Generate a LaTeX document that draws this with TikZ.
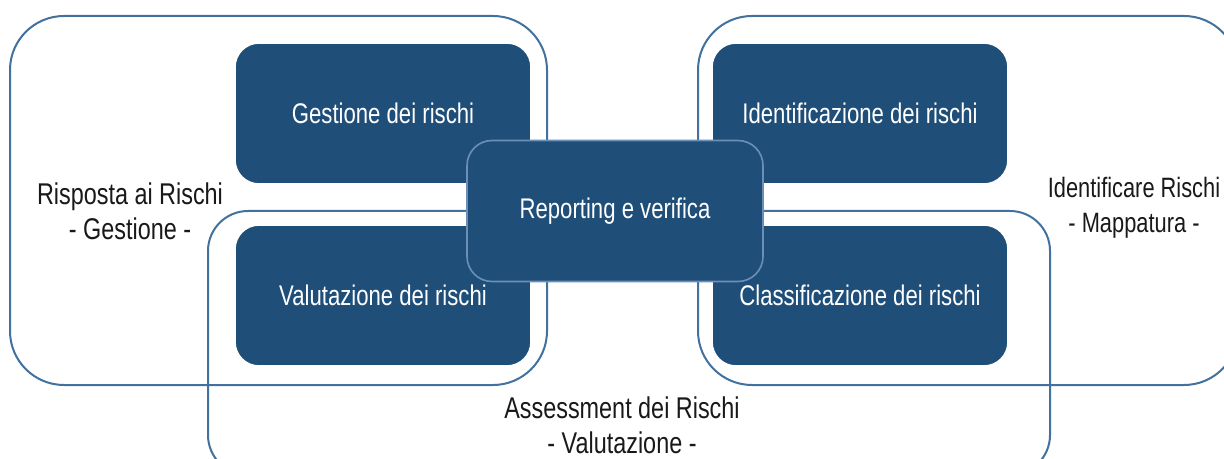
\documentclass[tikz,border=0pt]{standalone}
\usepackage{fontspec}
\setmainfont[FakeStretch=0.78]{Liberation Sans}
\definecolor{riskblue}{HTML}{1F4E79}
\definecolor{areablue}{HTML}{41719C}
\definecolor{edgeblue}{HTML}{6A90B8}
\begin{document}
\begin{tikzpicture}[x=0.5pt,y=-0.5pt,
    area/.style={draw=areablue, line width=1pt, rounded corners=27pt},
    riskbox/.style={fill=riskblue, draw=white, line width=0.8pt, rounded corners=12pt,
      minimum width=148pt, minimum height=70.5pt, text=white, font=\fontsize{14.2}{17}\selectfont},
    arealabel/.style={align=center, text=black!90, font=\fontsize{15}{17.5}\selectfont}]
    \useasboundingbox (0,0) rectangle (1224,459);

    % Areas
    \begin{scope}
    \clip (0,0) rectangle (1224,459);
    \draw[area] (10,16) rectangle (547,385);
    \draw[area] (698,16) rectangle (1238,385);
    \draw[area, rounded corners=20pt] (208,211) rectangle (1050,475);
    \end{scope}

    % Steps
    \node[riskbox] (gestione) at (383,113.5) {Gestione dei rischi};
    \node[riskbox] (valutazione) at (383,295.5) {Valutazione dei rischi};
    \node[riskbox] (identificazione) at (860,113.5) {Identificazione dei rischi};
    \node[riskbox] (classificazione) at (860,295.5) {Classificazione dei rischi};
    \node[riskbox, draw=edgeblue, rounded corners=12.5pt] (reporting) at (615,211) {Reporting e verifica};

    % Area labels
    \node[arealabel] (risposta) at (130,211) {Risposta ai Rischi\\- Gestione -};
    \node[arealabel, font=\fontsize{14}{17.5}\selectfont] (identificare) at (1134,208) {Identificare Rischi\\- Mappatura -};
    \node[arealabel] (assessment) at (622,425) {Assessment dei Rischi\\- Valutazione -};
\end{tikzpicture}
\end{document}
